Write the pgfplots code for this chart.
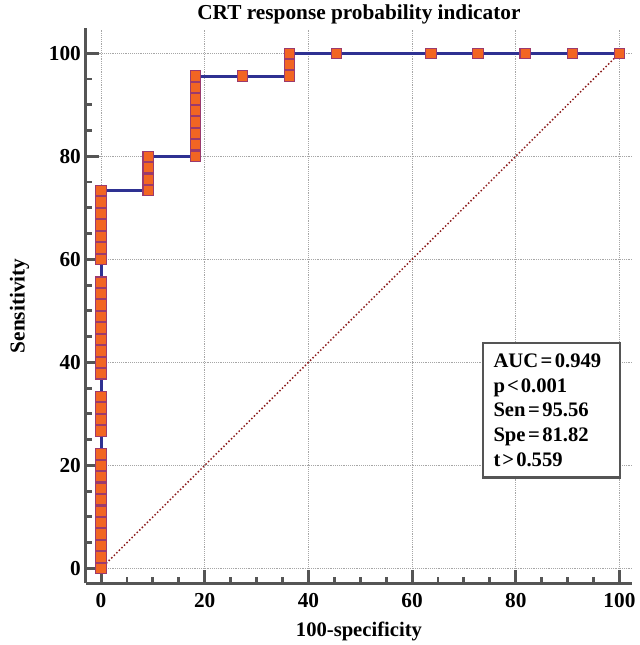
\documentclass[border=0pt]{standalone}
\usepackage{pgfplots}
\pgfplotsset{compat=1.18}
\usepackage{fontspec}
\setmainfont{Liberation Serif}
\definecolor{axgray}{HTML}{555555}
\definecolor{roc}{HTML}{2E3192}
\definecolor{mfill}{HTML}{F26522}
\definecolor{mdraw}{HTML}{9B3A6E}
\definecolor{diag}{HTML}{8B1A1A}
\begin{document}
\begin{tikzpicture}
\begin{axis}[
  scale only axis,
  width=411pt, height=417pt,
  xmin=-3, xmax=102.5, ymin=-2.9, ymax=104.8,
  axis x line*=bottom, axis y line*=left,
  xtick pos=bottom, ytick pos=left,
  axis line style={-, draw=axgray, line width=2.3pt},
  xtick={0,20,40,60,80,100}, ytick={0,20,40,60,80,100},
  minor x tick num=3, minor y tick num=3,
  xtick align=inside, ytick align=inside,
  major tick length=10pt, minor tick length=5pt,
  tick style={draw=axgray, line width=2.2pt},
  grid=major,
  major grid style={densely dotted, draw=gray!70, line width=0.6pt},
  /pgf/number format/assume math mode=true,
  ticklabel style={font=\bfseries\fontsize{16}{18}\selectfont},
  xticklabel style={yshift=-4pt},
  title={CRT response probability indicator},
  title style={font=\bfseries\fontsize{16}{18}\selectfont, yshift=-6pt},
  xlabel={100-specificity},
  ylabel={Sensitivity},
  every axis x label/.style={at={(axis description cs:0.5,-0.086)}, anchor=center,
     font=\bfseries\fontsize{15.5}{17}\selectfont},
  every axis y label/.style={at={(axis description cs:-0.1204,0.5)}, anchor=center, rotate=90,
     inner ysep=7.5pt, font=\bfseries\fontsize{16}{18}\selectfont},
  clip=false,
]
\addplot[diag, line width=1.1pt, dash pattern=on 1.1pt off 1.6pt] coordinates {(0,0) (100,100)};
\addplot[roc, line width=2.3pt, mark=square*, mark size=3.9pt,
  mark options={solid, fill=mfill, draw=mdraw, line width=0.8pt}] coordinates {
(0,0) (0,2.222) (0,4.444) (0,6.667) (0,8.889) (0,11.111) (0,13.333) (0,15.556) (0,17.778) (0,20) (0,22.222)
(0,26.667) (0,28.889) (0,31.111) (0,33.333)
(0,37.778) (0,40) (0,42.222) (0,44.444) (0,46.667) (0,48.889) (0,51.111) (0,53.333) (0,55.556)
(0,60) (0,62.222) (0,64.444) (0,66.667) (0,68.889) (0,71.111) (0,73.333)
(9.091,73.333) (9.091,75.556) (9.091,77.778) (9.091,80)
(18.182,80) (18.182,82.222) (18.182,84.444) (18.182,86.667) (18.182,88.889) (18.182,91.111) (18.182,93.333) (18.182,95.556)
(27.273,95.556)
(36.364,95.556) (36.364,97.778) (36.364,100)
(45.455,100) (63.636,100) (72.727,100) (81.818,100) (90.909,100) (100,100)
};
\node[draw=axgray, line width=2pt, fill=white, anchor=north west,
  text width=87pt, minimum height=101pt, inner xsep=8pt, inner ysep=6pt, align=left,
  font=\bfseries\fontsize{15.5}{18.75}\selectfont]
  at (axis cs:73.4,44) {AUC\hspace{0.12em}=\hspace{0.12em}0.949\\p\hspace{0.1em}<\hspace{0.1em}0.001\\Sen\hspace{0.12em}=\hspace{0.12em}95.56\\Spe\hspace{0.12em}=\hspace{0.12em}81.82\\t\hspace{0.1em}>\hspace{0.1em}0.559};
\end{axis}
\end{tikzpicture}
\end{document}
